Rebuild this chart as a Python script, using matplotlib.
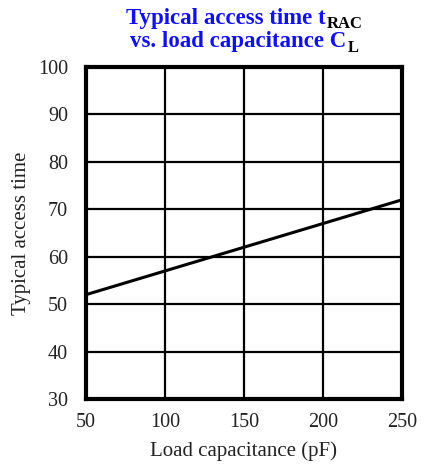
import matplotlib
matplotlib.use("Agg")
import matplotlib.pyplot as plt

load_pf = [50, 250]
access_time = [52, 72]
x_ticks = [50, 100, 150, 200, 250]
y_ticks = [30, 40, 50, 60, 70, 80, 90, 100]

plt.rcParams['font.family'] = ['Liberation Serif', 'DejaVu Serif']

fig = plt.figure(figsize=(4.32, 4.70), dpi=100)
ax = fig.add_axes([86/432, 1-399/470, (402-86)/432, (399-67)/470])
ax.plot(load_pf, access_time, color='black', lw=2.2, solid_capstyle='butt')
ax.set_xlim(50, 250)
ax.set_ylim(30, 100)
ax.set_xticks(x_ticks)
ax.set_yticks(y_ticks)
ax.grid(True, color='black', lw=1.6)
ax.set_axisbelow(True)
for s in ax.spines.values():
    s.set_linewidth(3)
ax.tick_params(axis='x', length=0, labelsize=14.5, colors='#222222', pad=10)
ax.tick_params(axis='y', length=0, labelsize=14.5, colors='#222222', pad=13)
ax.set_xlabel('Load capacitance (pF)', fontsize=15, color='#222222', labelpad=7)
ax.set_ylabel('Typical access time', fontsize=15, color='#222222', labelpad=5)

# Title with black subscripts
fig.canvas.draw()
r = fig.canvas.get_renderer()
blue = '#1111ee'
cx = 244 / 432

def title_line(main, sub, ybase, drop):
    t1 = fig.text(0, 0, main, fontsize=16.5, fontweight='bold', color=blue, va='baseline')
    t2 = fig.text(0, 0, sub, fontsize=12, fontweight='bold', color='black', va='baseline')
    w1 = t1.get_window_extent(r).width
    w2 = t2.get_window_extent(r).width
    total = w1 + w2
    x0 = cx * 432 - total / 2
    t1.set_position((x0 / 432, ybase))
    t2.set_position(((x0 + w1 + 1) / 432, ybase - drop / 470))

title_line('Typical access time t', 'RAC', 1 - 24 / 470, 4)
title_line('vs. load capacitance C', 'L', 1 - 47 / 470, 5)

fig.savefig('out.png', dpi=100)
